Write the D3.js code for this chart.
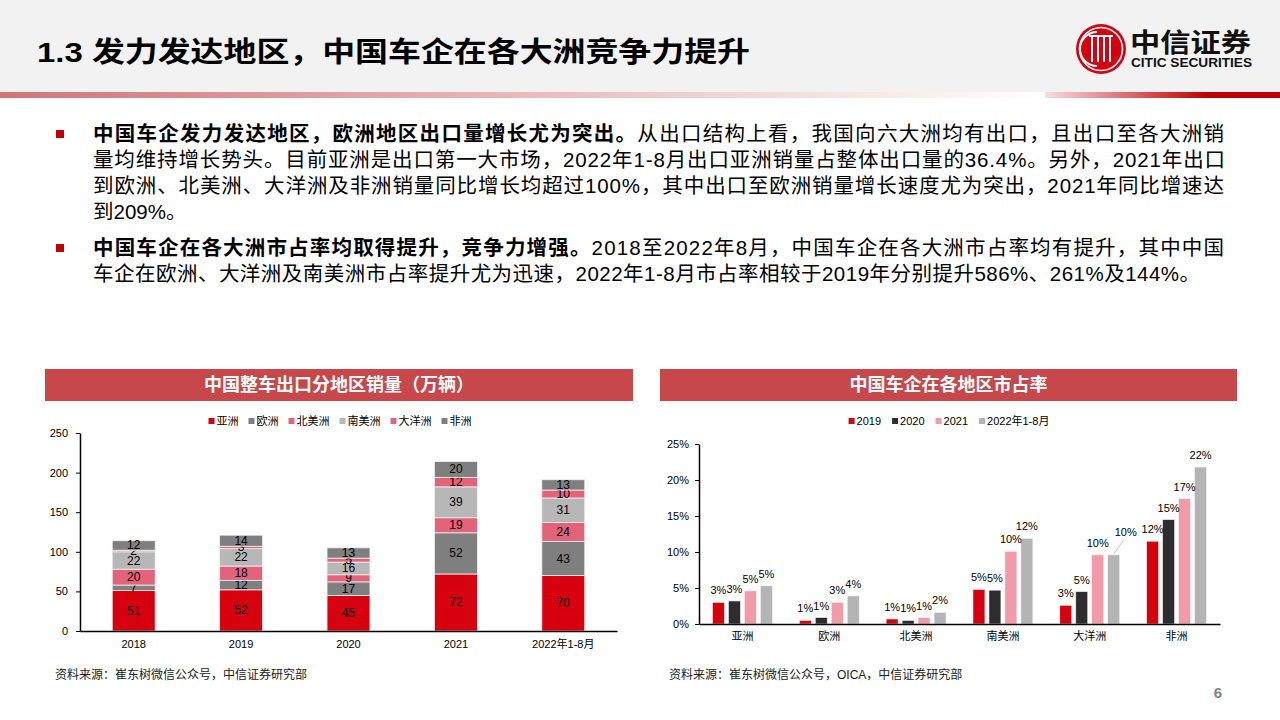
<!DOCTYPE html>
<html>
<head>
<meta charset="utf-8">
<script src="https://cdn.jsdelivr.net/npm/d3@7"></script>
<style>
body{margin:0;background:#fff;}
svg text{font-family:"Liberation Sans","Noto Sans CJK SC",sans-serif;}
</style>
</head>
<body>
<svg id="chart" width="1280" height="720"></svg>
<script>
// ---- data ----
var regions = ["亚洲","欧洲","北美洲","南美洲","大洋洲","非洲"];
var years = ["2018","2019","2020","2021","2022年1-8月"];
var asia = [51,52,45,72,70];
var europe = [7,12,17,52,43];
var northAmerica = [20,18,9,19,24];
var southAmerica = [22,22,16,39,31];
var oceania = [2,3,5,12,10];
var africa = [12,14,13,20,13];
var exportTicks = [0,50,100,150,200,250];

var shareSeries = ["2019","2020","2021","2022年1-8月"];
var share2019 = [3.0,0.5,0.7,4.8,2.6,11.5];
var share2020 = [3.2,0.9,0.5,4.7,4.5,14.5];
var share2021 = [4.6,3.0,0.9,10.1,9.6,17.4];
var share2022 = [5.3,3.9,1.6,11.9,9.6,21.8];
var shareTicks = [0,5,10,15,20,25];

var exportColors = ["#d7000f","#7f7f7f","#e2637a","#b7b7b7","#e2637a","#7f7f7f"];
var shareColors = ["#d7000f","#2d2d2d","#f09ba7","#b4b4b4"];
var FONT = "Liberation Sans, Noto Sans CJK SC, sans-serif";

var svg = d3.select("#chart");

// ---- header ----
svg.append("rect").attr("x",0).attr("y",0).attr("width",1280).attr("height",92).attr("fill","#f2f2f2");
var defs = svg.append("defs");
var gl = defs.append("linearGradient").attr("id","bandL");
gl.append("stop").attr("offset","0%").attr("stop-color","#d27474");
gl.append("stop").attr("offset","100%").attr("stop-color","#ffffff");
var gr = defs.append("linearGradient").attr("id","bandR");
gr.append("stop").attr("offset","0%").attr("stop-color","#f8dcdf");
gr.append("stop").attr("offset","69%").attr("stop-color","#c00000");
gr.append("stop").attr("offset","100%").attr("stop-color","#c00000");
svg.append("rect").attr("x",0).attr("y",92).attr("width",1045).attr("height",6).attr("fill","url(#bandL)");
svg.append("rect").attr("x",1045).attr("y",92).attr("width",235).attr("height",6).attr("fill","url(#bandR)");

svg.append("text").attr("x",37).attr("y",52).attr("dominant-baseline","central")
  .style("font-size","28px").style("font-weight","bold").attr("fill","#000")
  .attr("textLength",713).attr("lengthAdjust","spacingAndGlyphs")
  .text("1.3 发力发达地区，中国车企在各大洲竞争力提升");

// logo
var logo = svg.append("g").attr("transform","translate(1101,49)");
logo.append("circle").attr("r",25).attr("fill","#d7000f");
logo.append("circle").attr("r",21.5).attr("fill","none").attr("stroke","#fff").attr("stroke-width",1.6);
logo.append("path").attr("d","M-4,-17 A17,17 0 1 0 -4,17").attr("fill","none").attr("stroke","#fff").attr("stroke-width",2);
[-9,-3,3,9].forEach(function(dx){
  logo.append("rect").attr("x",dx-1).attr("y",-13).attr("width",2).attr("height",26).attr("fill","#fff");
});
logo.append("path").attr("d","M-12,-13 H12").attr("stroke","#fff").attr("stroke-width",2);
svg.append("text").attr("x",1130).attr("y",43).attr("dominant-baseline","central")
  .style("font-size","26px").style("font-weight","bold").attr("fill","#111")
  .attr("textLength",121).attr("lengthAdjust","spacingAndGlyphs").text("中信证券");
svg.append("text").attr("x",1131).attr("y",67)
  .style("font-size","12.5px").style("font-weight","bold").attr("fill","#111")
  .attr("textLength",121).attr("lengthAdjust","spacingAndGlyphs").text("CITIC SECURITIES");

// ---- body text ----
function bodyLine(y, parts, len){
  var t = svg.append("text").attr("x",93).attr("y",y).attr("dominant-baseline","central")
    .style("font-size","20.5px").attr("fill","#000");
  parts.forEach(function(p){
    t.append("tspan").text(p[0]).style("font-weight", p[1] ? "bold" : "normal");
  });
  if(len) t.attr("textLength",len).attr("lengthAdjust","spacing");
}
function bullet(y){
  svg.append("rect").attr("x",56).attr("y",y-4).attr("width",8).attr("height",8).attr("fill","#c00000");
}
bullet(134);
bodyLine(133,[["中国车企发力发达地区，欧洲地区出口量增长尤为突出。",true],["从出口结构上看，我国向六大洲均有出口，且出口至各大洲销",false]],1131);
bodyLine(159,[["量均维持增长势头。目前亚洲是出口第一大市场，2022年1-8月出口亚洲销量占整体出口量的36.4%。另外，2021年出口",false]],1132);
bodyLine(185,[["到欧洲、北美洲、大洋洲及非洲销量同比增长均超过100%，其中出口至欧洲销量增长速度尤为突出，2021年同比增速达",false]],1131);
bodyLine(211,[["到209%。",false]]);
bullet(248);
bodyLine(247,[["中国车企在各大洲市占率均取得提升，竞争力增强。",true],["2018至2022年8月，中国车企在各大洲市占率均有提升，其中中国",false]],1131);
bodyLine(273,[["车企在欧洲、大洋洲及南美洲市占率提升尤为迅速，2022年1-8月市占率相较于2019年分别提升586%、261%及144%。",false]],1107);

// ---- panel title bars ----
function panelTitle(x0, x1, label){
  svg.append("rect").attr("x",x0).attr("y",369).attr("width",x1-x0).attr("height",32).attr("fill","#c8474b");
  svg.append("text").attr("x",(x0+x1)/2).attr("y",385).attr("text-anchor","middle").attr("dominant-baseline","central")
    .style("font-size","18px").style("font-weight","bold").attr("fill","#fff").text(label);
}
panelTitle(45,633,"中国整车出口分地区销量（万辆）");
panelTitle(660,1237,"中国车企在各地区市占率");

// legend helper
function legend(items, colors, cx, cy, fontSize, gap){
  var g = svg.append("g");
  var widths = [];
  var tmp = g.selectAll("text.tmp").data(items).join("text").style("font-size",fontSize+"px").text(function(d){return d;});
  tmp.each(function(){ widths.push(this.getComputedTextLength()); });
  tmp.remove();
  var sq = 6, pad = 2;
  var total = d3.sum(widths) + items.length*(sq+pad) + (items.length-1)*gap;
  var x = cx - total/2;
  items.forEach(function(d,i){
    g.append("rect").attr("x",x).attr("y",cy-sq/2).attr("width",sq).attr("height",sq).attr("fill",colors[i]);
    g.append("text").attr("x",x+sq+pad).attr("y",cy).attr("dominant-baseline","central")
      .style("font-size",fontSize+"px").attr("fill","#000").text(d);
    x += sq + pad + widths[i] + gap;
  });
}

// ---- left chart: stacked exports ----
var exportRows = years.map(function(yr,i){
  return {year:yr, "亚洲":asia[i], "欧洲":europe[i], "北美洲":northAmerica[i],
          "南美洲":southAmerica[i], "大洋洲":oceania[i], "非洲":africa[i]};
});
var stacked = d3.stack().keys(regions)(exportRows);
var xL = d3.scaleBand().domain(years).range([80,617]).paddingInner(0.6).paddingOuter(0.3);
var yL = d3.scaleLinear().domain([0,250]).range([631,433]);

legend(regions, exportColors, 340, 421, 11, 10);

var leftG = svg.append("g");
var layers = leftG.selectAll(".layer").data(stacked).join("g").attr("class","layer")
  .attr("fill", function(d,i){ return exportColors[i]; });
layers.selectAll("rect").data(function(d){ return d; }).join("rect")
  .attr("x", function(d){ return xL(d.data.year); })
  .attr("y", function(d){ return yL(d[1]); })
  .attr("width", xL.bandwidth())
  .attr("height", function(d){ return yL(d[0]) - yL(d[1]); })
  .attr("stroke","#f2f2f2").attr("stroke-width",0.8);
layers.selectAll("text").data(function(d){ return d; }).join("text")
  .attr("x", function(d){ return xL(d.data.year) + xL.bandwidth()/2; })
  .attr("y", function(d){ return (yL(d[0]) + yL(d[1]))/2; })
  .attr("text-anchor","middle").attr("dominant-baseline","central")
  .style("font-size","12px").attr("fill","#000")
  .text(function(d){ return d[1]-d[0]; });

var yAxisL = leftG.append("g").attr("transform","translate(80,0)")
  .call(d3.axisLeft(yL).tickValues(exportTicks).tickSize(4).tickSizeOuter(0).tickPadding(8));
var xAxisL = leftG.append("g").attr("transform","translate(0,631)")
  .call(d3.axisBottom(xL).tickSize(0).tickPadding(9));

// ---- right chart: grouped market share ----
var shareRows = regions.map(function(r,i){
  return {region:r, values:[share2019[i],share2020[i],share2021[i],share2022[i]]};
});
var x0 = d3.scaleBand().domain(regions).range([699,1220]).paddingInner(0.31).paddingOuter(0.155);
var x1 = d3.scaleBand().domain(shareSeries).range([0,x0.bandwidth()]).paddingInner(0.25).paddingOuter(0);
var yR = d3.scaleLinear().domain([0,25]).range([624,444]);

legend(shareSeries, shareColors, 949, 421, 11, 11);

var rightG = svg.append("g");
var groups = rightG.selectAll(".grp").data(shareRows).join("g").attr("class","grp")
  .attr("transform", function(d){ return "translate(" + x0(d.region) + ",0)"; });
groups.selectAll("rect").data(function(d){
    return d.values.map(function(v,j){ return {region:d.region, series:shareSeries[j], value:v, idx:j}; });
  }).join("rect")
  .attr("x", function(d){ return x1(d.series); })
  .attr("y", function(d){ return yR(d.value); })
  .attr("width", x1.bandwidth())
  .attr("height", function(d){ return yR(0) - yR(d.value); })
  .attr("fill", function(d){ return shareColors[d.idx]; })
  .attr("stroke","#f4f4f4").attr("stroke-width",0.6);

groups.each(function(d){
  var g = d3.select(this);
  d.values.forEach(function(v,j){
    var bx = x1(shareSeries[j]) + x1.bandwidth()/2;
    var by = yR(v);
    var lx = bx, ly = by - 12;
    if(d.region === "大洋洲" && j === 3){
      lx = bx + 12; ly = by - 23;
      g.append("line").attr("x1",bx).attr("y1",by-1).attr("x2",bx+10).attr("y2",by-15)
        .attr("stroke","#b4b4b4").attr("stroke-width",0.8);
    }
    g.append("text").attr("x",lx).attr("y",ly).attr("text-anchor","middle").attr("dominant-baseline","central")
      .style("font-size","11px").attr("fill","#000").text(Math.round(v) + "%");
  });
});

var yAxisR = rightG.append("g").attr("transform","translate(699,0)")
  .call(d3.axisLeft(yR).tickValues(shareTicks).tickSize(4).tickSizeOuter(0).tickPadding(6)
        .tickFormat(function(d){ return d + "%"; }));
var xAxisR = rightG.append("g").attr("transform","translate(0,624)")
  .call(d3.axisBottom(x0).tickSize(0).tickPadding(8));

[yAxisL, xAxisL, yAxisR, xAxisR].forEach(function(a){
  a.attr("font-family",FONT).attr("font-size",11);
  a.selectAll("text").attr("fill","#000");
  a.select(".domain").attr("stroke","#000").attr("stroke-width",1.5);
  a.selectAll(".tick line").attr("stroke","#000");
});

// ---- footer ----
svg.append("text").attr("x",55).attr("y",675).attr("dominant-baseline","central")
  .style("font-size","12px").attr("fill","#222").text("资料来源：崔东树微信公众号，中信证券研究部");
svg.append("text").attr("x",669).attr("y",675).attr("dominant-baseline","central")
  .style("font-size","12px").attr("fill","#222").text("资料来源：崔东树微信公众号，OICA，中信证券研究部");
svg.append("text").attr("x",1218).attr("y",692).attr("text-anchor","middle").attr("dominant-baseline","central")
  .style("font-size","15px").style("font-weight","bold").attr("fill","#7f7f7f").text("6");
</script>
</body>
</html>
